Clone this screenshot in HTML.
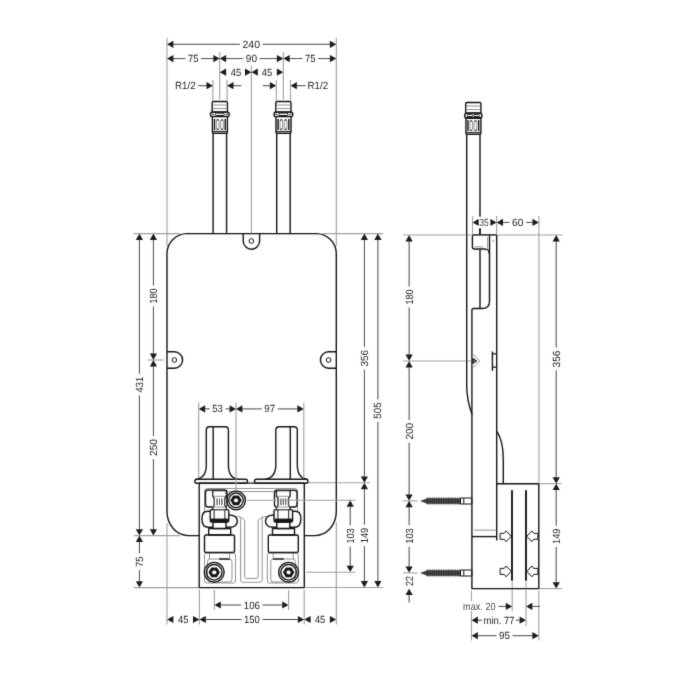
<!DOCTYPE html>
<html><head><meta charset="utf-8"><title>Dimension drawing</title>
<style>
html,body{margin:0;padding:0;background:#fff;}
body{width:700px;height:700px;overflow:hidden;font-family:"Liberation Sans",sans-serif;}
svg{display:block}
.o{stroke:#161616;stroke-width:1.4;fill:none;stroke-linecap:butt;stroke-linejoin:round}
.o2{stroke:#161616;stroke-width:1.0;fill:none}
.o3{stroke:#161616;stroke-width:1.0;fill:none;stroke-linejoin:round}
.g{stroke:#868686;stroke-width:0.9;fill:none}
.e{stroke:#a0a0a0;stroke-width:1.1}
.d{stroke:#333;stroke-width:0.9}
.ar{fill:#1c1c1c}
.t{text-rendering:geometricPrecision;font-family:"Liberation Sans",sans-serif;font-size:10.4px;fill:#262626}
</style></head><body>
<svg width="700" height="700" viewBox="0 0 700 700">
<rect width="700" height="700" fill="#fff"/>
<g filter="url(#b)">
<defs><filter id="b" x="0" y="0" width="700" height="700" filterUnits="userSpaceOnUse"><feConvolveMatrix order="3" kernelMatrix="0.02 0.13 0.02 0.13 1 0.13 0.02 0.13 0.02" divisor="1.6" edgeMode="none"/></filter></defs>
<line class="e" x1="167.0" y1="38.0" x2="167.0" y2="246.0"/>
<line class="e" x1="336.3" y1="38.0" x2="336.3" y2="246.0"/>
<line class="e" x1="219.7" y1="52.0" x2="219.7" y2="99.5"/>
<line class="e" x1="283.3" y1="52.0" x2="283.3" y2="99.5"/>
<line class="e" x1="251.4" y1="66.0" x2="251.4" y2="233.0"/>
<line class="e" x1="212.9" y1="80.0" x2="212.9" y2="101.0"/>
<line class="e" x1="227.1" y1="80.0" x2="227.1" y2="101.0"/>
<line class="e" x1="276.3" y1="80.0" x2="276.3" y2="101.0"/>
<line class="e" x1="290.5" y1="80.0" x2="290.5" y2="101.0"/>
<line class="e" x1="133.6" y1="233.6" x2="180.0" y2="233.6"/>
<line class="e" x1="147.6" y1="360.0" x2="164.0" y2="360.0"/>
<line class="e" x1="134.0" y1="535.6" x2="180.0" y2="535.6"/>
<line class="e" x1="134.0" y1="587.6" x2="199.0" y2="587.6"/>
<line class="e" x1="323.0" y1="233.6" x2="383.0" y2="233.6"/>
<line class="e" x1="305.0" y1="482.8" x2="370.0" y2="482.8"/>
<line class="e" x1="306.0" y1="572.2" x2="355.5" y2="572.2"/>
<line class="e" x1="304.5" y1="587.5" x2="383.0" y2="587.5"/>
<line class="e" x1="167.0" y1="523.0" x2="167.0" y2="624.5"/>
<line class="e" x1="199.4" y1="589.5" x2="199.4" y2="624.5"/>
<line class="e" x1="214.4" y1="590.0" x2="214.4" y2="610.0"/>
<line class="e" x1="288.6" y1="590.0" x2="288.6" y2="610.0"/>
<line class="e" x1="304.2" y1="589.5" x2="304.2" y2="624.5"/>
<line class="e" x1="336.3" y1="522.0" x2="336.3" y2="624.5"/>
<line class="e" x1="472.5" y1="216.0" x2="472.5" y2="234.0"/>
<line class="e" x1="496.6" y1="216.0" x2="496.6" y2="234.0"/>
<line class="e" x1="538.9" y1="216.0" x2="538.9" y2="483.0"/>
<line class="e" x1="403.4" y1="235.0" x2="562.5" y2="235.0"/>
<line class="e" x1="403.0" y1="361.0" x2="471.0" y2="361.0"/>
<line class="e" x1="403.0" y1="500.9" x2="417.5" y2="500.9"/>
<line class="e" x1="403.0" y1="572.9" x2="417.5" y2="572.9"/>
<line class="e" x1="539.5" y1="483.7" x2="561.5" y2="483.7"/>
<line class="e" x1="539.5" y1="588.6" x2="562.0" y2="588.6"/>
<line class="e" x1="471.5" y1="590.5" x2="471.5" y2="640.5"/>
<line class="e" x1="512.2" y1="581.5" x2="512.2" y2="611.5"/>
<line class="e" x1="526.0" y1="581.5" x2="526.0" y2="626.0"/>
<line class="e" x1="538.8" y1="590.5" x2="538.8" y2="640.5"/>
<path class="o" d="M213.1,133 V233.6 M226.6,133 V233.6"/>
<path class="o" d="M276.7,133 V233.6 M290.2,133 V233.6"/>
<rect class="o" x="212.2" y="101.5" width="15.2" height="10.6" rx="1.2" fill="#fff"/>
<path class="g" d="M213.0,105.0 h13.6 M213.0,108.6 h13.6"/>
<rect class="o" x="212.4" y="116.4" width="15" height="16.8" rx="1" fill="#fff"/>
<path d="M214.5,119.0 v11 M225.2,119.0 v11" stroke="#1f1f1f" stroke-width="1.5" fill="none"/>
<rect class="g" x="216.4" y="119.8" width="2.6" height="9.6" rx="0.8" fill="none"/>
<rect class="g" x="220.7" y="119.8" width="2.6" height="9.6" rx="0.8" fill="none"/>
<path class="o2" d="M216.6,120.0 h2 M221.0,120.0 h2 M216.6,129.2 h2 M221.0,129.2 h2"/>
<path class="o2" d="M212.4,131.4 h15"/>
<rect class="o" x="210.4" y="112.0" width="18.8" height="4.6" rx="2.2" fill="#fff"/>
<rect class="o2" x="215.3" y="113.1" width="9" height="2.4" rx="1.2" fill="none" stroke-width="0.8"/>
<path class="o2" d="M211.8,114.3 h2 M225.8,114.3 h2" stroke-width="0.8"/>
<rect class="o" x="275.8" y="101.5" width="15.2" height="10.6" rx="1.2" fill="#fff"/>
<path class="g" d="M276.6,105.0 h13.6 M276.6,108.6 h13.6"/>
<rect class="o" x="276.0" y="116.4" width="15" height="16.8" rx="1" fill="#fff"/>
<path d="M278.1,119.0 v11 M288.8,119.0 v11" stroke="#1f1f1f" stroke-width="1.5" fill="none"/>
<rect class="g" x="280.0" y="119.8" width="2.6" height="9.6" rx="0.8" fill="none"/>
<rect class="g" x="284.3" y="119.8" width="2.6" height="9.6" rx="0.8" fill="none"/>
<path class="o2" d="M280.2,120.0 h2 M284.6,120.0 h2 M280.2,129.2 h2 M284.6,129.2 h2"/>
<path class="o2" d="M276.0,131.4 h15"/>
<rect class="o" x="274.0" y="112.0" width="18.8" height="4.6" rx="2.2" fill="#fff"/>
<rect class="o2" x="278.9" y="113.1" width="9" height="2.4" rx="1.2" fill="none" stroke-width="0.8"/>
<path class="o2" d="M275.4,114.3 h2 M289.4,114.3 h2" stroke-width="0.8"/>
<path class="o" d="M199.4,535.6 H188 A21,24 0 0 1 167,511.6 V253.6 A20,20 0 0 1 187,233.6 H316.3 A20,20 0 0 1 336.3,253.6 V511.6 A21,24 0 0 1 315.3,535.6 H304.2"/>
<path class="o" d="M243.2,233.6 V241 A8.2,8.2 0 0 0 259.6,241 V233.6"/>
<path class="o" d="M167,351.8 H174.4 A8.2,8.2 0 0 1 174.4,368.2 H167"/>
<path class="o" d="M336.3,351.8 H328.6 A8.2,8.2 0 0 0 328.6,368.2 H336.3"/>
<circle class="o3" cx="251.4" cy="241.0" r="2.3" stroke-width="1.2"/>
<circle class="o3" cx="174.4" cy="360.0" r="2.3" stroke-width="1.2"/>
<circle class="o3" cx="328.6" cy="360.0" r="2.3" stroke-width="1.2"/>
<path class="o" d="M195.8,479.4 Q206.3,478 206.3,465 V430 Q206.3,426.7 209.5,426.7 H225.2 Q228.4,426.7 228.4,430 V465 Q228.4,478 238.5,479.4" fill="#fff"/>
<path class="o" d="M213.2,426.7 V479.2"/>
<path class="o" d="M264.5,479.4 Q275.8,478 275.8,465 V430 Q275.8,426.7 279,426.7 H294.1 Q297.3,426.7 297.3,430 V465 Q297.3,478 307.5,479.4" fill="#fff"/>
<path class="o" d="M290.3,426.7 V479.2"/>
<rect class="o" x="194.8" y="479.2" width="52.7" height="4" rx="2" fill="#fff"/>
<rect class="o" x="254.5" y="479.2" width="53.5" height="4" rx="2" fill="#fff"/>
<rect class="o" x="199.2" y="483.1" width="105.1" height="104.5" fill="none"/>
<path class="g" d="M204.5,512 V491 Q204.5,488.5 207,488.5 H295 Q297.5,488.5 297.5,491 V512"/>
<path class="g" d="M228,491.6 H273.5"/>
<path class="g" d="M236.5,516.5 H238.6 Q240.6,516.5 240.6,518.5 V580 Q240.6,582.3 243,582.3 H259.8 Q262.2,582.3 262.2,580 V518.5 Q262.2,516.5 264.2,516.5 H266.3"/>
<path class="g" d="M241,516.8 L244.6,520.5 V576.5 Q244.6,578.4 246.5,578.4 H256.3 Q258.2,578.4 258.2,576.5 V520.5 L261.8,516.8"/>
<rect class="g" x="204.5" y="553" width="31.0" height="30" rx="2" fill="none"/>
<rect class="g" x="207.5" y="559" width="24.5" height="23" rx="2.5" fill="none"/>
<path class="o" d="M219.0,559 H230.0"/>
<path class="g" d="M209.5,552.5 V559 M229.5,552.5 V559"/>
<rect class="g" x="267.3" y="553" width="31.0" height="30" rx="2" fill="none"/>
<rect class="g" x="270.8" y="559" width="24.5" height="23" rx="2.5" fill="none"/>
<path class="o" d="M283.8,559 H272.8"/>
<path class="g" d="M293.3,552.5 V559 M273.3,552.5 V559"/>
<rect class="o" x="205.5" y="490" width="21.5" height="17" rx="2.5" fill="none"/>
<rect x="212.7" y="491" width="13.6" height="19" fill="#fff"/>
<path class="o" d="M212.7,491 V496 L214.3,498.5 V505 L212.7,508 V509.5 M226.3,491 V496 L224.7,498.5 V505 L226.3,508 V509.5"/>
<path class="o" d="M212.7,490.6 H226.3"/>
<path class="o2" d="M217.1,498.5 V505 M219.5,498.5 V505 M221.9,498.5 V505"/>
<path class="g" d="M213.5,496.3 H225.5 M213.5,507 H225.5"/>
<path class="o" d="M210.5,511.3 H207.5 Q201.9,511.3 201.9,519 Q201.9,527.3 208.5,527.3 H213.0" fill="#fff"/>
<path class="o" d="M228.5,515 Q237.3,515 237.3,521 Q237.3,527.2 229.5,527.2 H226.0" fill="#fff"/>
<rect class="o" x="213.0" y="522" width="13" height="6.5" fill="#fff"/>
<rect class="o" x="210.2" y="509.6" width="18.6" height="12.4" rx="1.6" fill="#fff"/>
<rect x="210.8" y="518.6" width="17.4" height="3.4" fill="#161616"/>
<path class="o2" d="M214.1,510 V519 M224.9,510 V519"/>
<rect class="o" x="208.7" y="528.6" width="22" height="6.4" fill="#fff"/>
<rect class="o" x="204.5" y="535" width="30" height="17.5" rx="1.6" fill="#fff"/>
<rect class="o" x="274.5" y="490.3" width="22.5" height="16.7" rx="2.5" fill="none"/>
<rect x="276.5" y="491" width="13.6" height="19" fill="#fff"/>
<path class="o" d="M276.5,491 V496 L278.1,498.5 V505 L276.5,508 V509.5 M290.1,491 V496 L288.5,498.5 V505 L290.1,508 V509.5"/>
<path class="o" d="M276.5,490.6 H290.1"/>
<path class="o2" d="M280.9,498.5 V505 M283.3,498.5 V505 M285.7,498.5 V505"/>
<path class="g" d="M277.3,496.3 H289.3 M277.3,507 H289.3"/>
<path class="o" d="M292.3,511.3 H295.3 Q300.9,511.3 300.9,519 Q300.9,527.3 294.3,527.3 H289.8" fill="#fff"/>
<path class="o" d="M274.3,515 Q265.5,515 265.5,521 Q265.5,527.2 273.3,527.2 H276.8" fill="#fff"/>
<rect class="o" x="276.8" y="522" width="13" height="6.5" fill="#fff"/>
<rect class="o" x="274.0" y="509.6" width="18.6" height="12.4" rx="1.6" fill="#fff"/>
<rect x="274.6" y="518.6" width="17.4" height="3.4" fill="#161616"/>
<path class="o2" d="M277.9,510 V519 M288.7,510 V519"/>
<rect class="o" x="272.5" y="528.6" width="22" height="6.4" fill="#fff"/>
<rect class="o" x="268.3" y="535" width="30" height="17.5" rx="1.6" fill="#fff"/>
<circle class="o" cx="236.0" cy="500.3" r="9.4" fill="#fff" stroke-width="1.9"/>
<circle class="o" cx="236.0" cy="500.3" r="7.3" stroke-width="1.3"/>
<polygon points="241.7,500.3 238.8,505.2 233.2,505.2 230.3,500.3 233.2,495.4 238.8,495.4" fill="#161616"/>
<circle cx="236.0" cy="500.3" r="1.9" fill="#fff"/>
<circle class="o" cx="214.2" cy="572.3" r="9.9" fill="#fff" stroke-width="1.9"/>
<circle class="o" cx="214.2" cy="572.3" r="7.8" stroke-width="1.3"/>
<polygon points="219.9,572.3 217.0,577.2 211.3,577.2 208.5,572.3 211.3,567.4 217.0,567.4" fill="#161616"/>
<circle cx="214.2" cy="572.3" r="1.9" fill="#fff"/>
<circle class="o" cx="288.6" cy="572.3" r="9.9" fill="#fff" stroke-width="1.9"/>
<circle class="o" cx="288.6" cy="572.3" r="7.8" stroke-width="1.3"/>
<polygon points="294.3,572.3 291.5,577.2 285.8,577.2 282.9,572.3 285.8,567.4 291.5,567.4" fill="#161616"/>
<circle cx="288.6" cy="572.3" r="1.9" fill="#fff"/>
<line class="e" x1="246.5" y1="500.3" x2="355.5" y2="500.3"/>
<line class="e" x1="198.7" y1="402.4" x2="198.7" y2="478.0"/>
<line class="e" x1="236.0" y1="402.4" x2="236.0" y2="490.0"/>
<line class="e" x1="303.8" y1="402.4" x2="303.8" y2="478.0"/>
<polygon class="ar" points="167.0,44.3 173.4,40.7 173.4,47.9"/>
<polygon class="ar" points="336.3,44.3 329.9,40.7 329.9,47.9"/>
<line class="d" x1="172.9" y1="44.3" x2="239.9" y2="44.3"/>
<line class="d" x1="262.7" y1="44.3" x2="330.4" y2="44.3"/>
<text class="t" x="251.3" y="47.8" text-anchor="middle" textLength="17.6" lengthAdjust="spacingAndGlyphs">240</text>
<polygon class="ar" points="167.0,58.6 173.4,55.0 173.4,62.2"/>
<polygon class="ar" points="219.7,58.6 213.3,55.0 213.3,62.2"/>
<line class="d" x1="172.9" y1="58.6" x2="185.3" y2="58.6"/>
<line class="d" x1="201.1" y1="58.6" x2="213.8" y2="58.6"/>
<text class="t" x="193.2" y="62.1" text-anchor="middle" textLength="10.6" lengthAdjust="spacingAndGlyphs">75</text>
<polygon class="ar" points="219.7,58.6 226.1,55.0 226.1,62.2"/>
<polygon class="ar" points="283.3,58.6 276.9,55.0 276.9,62.2"/>
<line class="d" x1="225.6" y1="58.6" x2="243.2" y2="58.6"/>
<line class="d" x1="259.6" y1="58.6" x2="277.4" y2="58.6"/>
<text class="t" x="251.4" y="62.1" text-anchor="middle" textLength="11.2" lengthAdjust="spacingAndGlyphs">90</text>
<polygon class="ar" points="283.3,58.6 289.7,55.0 289.7,62.2"/>
<polygon class="ar" points="336.3,58.6 329.9,55.0 329.9,62.2"/>
<line class="d" x1="289.2" y1="58.6" x2="302.4" y2="58.6"/>
<line class="d" x1="318.2" y1="58.6" x2="330.4" y2="58.6"/>
<text class="t" x="310.3" y="62.1" text-anchor="middle" textLength="10.6" lengthAdjust="spacingAndGlyphs">75</text>
<polygon class="ar" points="219.7,72.2 226.1,68.6 226.1,75.8"/>
<polygon class="ar" points="251.4,72.2 245.0,68.6 245.0,75.8"/>
<text class="t" x="236.0" y="75.8" text-anchor="middle" textLength="10.4" lengthAdjust="spacingAndGlyphs">45</text>
<polygon class="ar" points="251.4,72.2 257.8,68.6 257.8,75.8"/>
<polygon class="ar" points="283.3,72.2 276.9,68.6 276.9,75.8"/>
<text class="t" x="266.9" y="75.8" text-anchor="middle" textLength="10.4" lengthAdjust="spacingAndGlyphs">45</text>
<text class="t" x="185.3" y="89.2" text-anchor="middle" textLength="20.6" lengthAdjust="spacingAndGlyphs">R1/2</text>
<line class="d" x1="198.3" y1="85.7" x2="207.0" y2="85.7"/>
<polygon class="ar" points="212.9,85.7 206.5,82.1 206.5,89.3"/>
<polygon class="ar" points="227.1,85.7 233.5,82.1 233.5,89.3"/>
<line class="d" x1="233.0" y1="85.7" x2="241.4" y2="85.7"/>
<line class="d" x1="262.9" y1="85.7" x2="270.5" y2="85.7"/>
<polygon class="ar" points="276.3,85.7 269.9,82.1 269.9,89.3"/>
<polygon class="ar" points="290.5,85.7 296.9,82.1 296.9,89.3"/>
<line class="d" x1="296.5" y1="85.7" x2="305.5" y2="85.7"/>
<text class="t" x="317.8" y="89.2" text-anchor="middle" textLength="20.6" lengthAdjust="spacingAndGlyphs">R1/2</text>
<polygon class="ar" points="139.4,233.6 135.8,240.0 143.0,240.0"/>
<polygon class="ar" points="139.4,535.6 135.8,529.2 143.0,529.2"/>
<line class="d" x1="139.4" y1="239.5" x2="139.4" y2="373.9"/>
<line class="d" x1="139.4" y1="395.5" x2="139.4" y2="529.7"/>
<text class="t" transform="translate(143.0,384.7) rotate(-90)" text-anchor="middle" textLength="15.6" lengthAdjust="spacingAndGlyphs">431</text>
<polygon class="ar" points="153.4,233.6 149.8,240.0 157.0,240.0"/>
<polygon class="ar" points="153.4,360.0 149.8,353.6 157.0,353.6"/>
<line class="d" x1="153.4" y1="239.5" x2="153.4" y2="285.5"/>
<line class="d" x1="153.4" y1="306.5" x2="153.4" y2="354.1"/>
<text class="t" transform="translate(157.0,296.0) rotate(-90)" text-anchor="middle" textLength="15.0" lengthAdjust="spacingAndGlyphs">180</text>
<polygon class="ar" points="153.4,360.0 149.8,366.4 157.0,366.4"/>
<polygon class="ar" points="153.4,535.6 149.8,529.2 157.0,529.2"/>
<line class="d" x1="153.4" y1="365.9" x2="153.4" y2="436.0"/>
<line class="d" x1="153.4" y1="459.0" x2="153.4" y2="529.7"/>
<text class="t" transform="translate(157.0,447.5) rotate(-90)" text-anchor="middle" textLength="17.0" lengthAdjust="spacingAndGlyphs">250</text>
<polygon class="ar" points="139.4,535.6 135.8,542.0 143.0,542.0"/>
<polygon class="ar" points="139.4,587.6 135.8,581.2 143.0,581.2"/>
<line class="d" x1="139.4" y1="541.5" x2="139.4" y2="553.5"/>
<line class="d" x1="139.4" y1="570.1" x2="139.4" y2="581.7"/>
<text class="t" transform="translate(143.0,561.8) rotate(-90)" text-anchor="middle" textLength="10.6" lengthAdjust="spacingAndGlyphs">75</text>
<polygon class="ar" points="364.4,233.6 360.8,240.0 368.0,240.0"/>
<polygon class="ar" points="364.4,482.8 360.8,476.4 368.0,476.4"/>
<line class="d" x1="364.4" y1="239.5" x2="364.4" y2="347.0"/>
<line class="d" x1="364.4" y1="369.6" x2="364.4" y2="476.9"/>
<text class="t" transform="translate(367.9,358.3) rotate(-90)" text-anchor="middle" textLength="16.6" lengthAdjust="spacingAndGlyphs">356</text>
<polygon class="ar" points="377.9,233.6 374.3,240.0 381.5,240.0"/>
<polygon class="ar" points="377.9,587.5 374.3,581.1 381.5,581.1"/>
<line class="d" x1="377.9" y1="239.5" x2="377.9" y2="399.4"/>
<line class="d" x1="377.9" y1="421.8" x2="377.9" y2="581.6"/>
<text class="t" transform="translate(381.4,410.6) rotate(-90)" text-anchor="middle" textLength="16.4" lengthAdjust="spacingAndGlyphs">505</text>
<polygon class="ar" points="364.4,482.8 360.8,489.2 368.0,489.2"/>
<polygon class="ar" points="364.4,587.4 360.8,581.0 368.0,581.0"/>
<line class="d" x1="364.4" y1="488.7" x2="364.4" y2="524.7"/>
<line class="d" x1="364.4" y1="546.3" x2="364.4" y2="581.5"/>
<text class="t" transform="translate(367.9,535.5) rotate(-90)" text-anchor="middle" textLength="15.6" lengthAdjust="spacingAndGlyphs">149</text>
<polygon class="ar" points="350.2,500.3 346.6,506.7 353.8,506.7"/>
<polygon class="ar" points="350.2,572.1 346.6,565.7 353.8,565.7"/>
<line class="d" x1="350.2" y1="506.2" x2="350.2" y2="525.4"/>
<line class="d" x1="350.2" y1="546.6" x2="350.2" y2="566.2"/>
<text class="t" transform="translate(353.8,536.0) rotate(-90)" text-anchor="middle" textLength="15.2" lengthAdjust="spacingAndGlyphs">103</text>
<polygon class="ar" points="214.4,605.0 220.8,601.4 220.8,608.6"/>
<polygon class="ar" points="288.6,605.0 282.2,601.4 282.2,608.6"/>
<line class="d" x1="220.3" y1="605.0" x2="241.2" y2="605.0"/>
<line class="d" x1="262.6" y1="605.0" x2="282.7" y2="605.0"/>
<text class="t" x="251.9" y="608.5" text-anchor="middle" textLength="16.2" lengthAdjust="spacingAndGlyphs">106</text>
<polygon class="ar" points="167.0,619.5 173.4,615.9 173.4,623.1"/>
<polygon class="ar" points="199.4,619.5 193.0,615.9 193.0,623.1"/>
<text class="t" x="183.3" y="623.0" text-anchor="middle" textLength="10.4" lengthAdjust="spacingAndGlyphs">45</text>
<polygon class="ar" points="199.4,619.5 205.8,615.9 205.8,623.1"/>
<polygon class="ar" points="304.2,619.5 297.8,615.9 297.8,623.1"/>
<line class="d" x1="205.3" y1="619.5" x2="241.5" y2="619.5"/>
<line class="d" x1="262.5" y1="619.5" x2="298.3" y2="619.5"/>
<text class="t" x="252.0" y="623.0" text-anchor="middle" textLength="15.8" lengthAdjust="spacingAndGlyphs">150</text>
<polygon class="ar" points="304.2,619.5 310.6,615.9 310.6,623.1"/>
<polygon class="ar" points="336.3,619.5 329.9,615.9 329.9,623.1"/>
<text class="t" x="320.1" y="623.0" text-anchor="middle" textLength="10.4" lengthAdjust="spacingAndGlyphs">45</text>
<polygon class="ar" points="198.7,408.9 205.1,405.3 205.1,412.5"/>
<polygon class="ar" points="236.0,408.9 229.6,405.3 229.6,412.5"/>
<line class="d" x1="204.6" y1="408.9" x2="209.7" y2="408.9"/>
<line class="d" x1="225.5" y1="408.9" x2="230.1" y2="408.9"/>
<text class="t" x="217.6" y="412.4" text-anchor="middle" textLength="10.6" lengthAdjust="spacingAndGlyphs">53</text>
<polygon class="ar" points="236.0,408.9 242.4,405.3 242.4,412.5"/>
<polygon class="ar" points="303.8,408.9 297.4,405.3 297.4,412.5"/>
<line class="d" x1="241.9" y1="408.9" x2="261.7" y2="408.9"/>
<line class="d" x1="277.9" y1="408.9" x2="297.9" y2="408.9"/>
<text class="t" x="269.8" y="412.4" text-anchor="middle" textLength="11.0" lengthAdjust="spacingAndGlyphs">97</text>
<path class="o" d="M466.7,134 V387 Q467.2,402 472.1,414.5"/>
<path class="o" d="M480,134 V234.6 M480,249.4 V308.3"/>
<rect class="o" x="465.7" y="102.5" width="15.2" height="10.6" rx="1.2" fill="#fff"/>
<path class="g" d="M466.5,106.0 h13.6 M466.5,109.6 h13.6"/>
<rect class="o" x="465.9" y="117.4" width="15" height="16.8" rx="1" fill="#fff"/>
<path d="M468.0,120.0 v11 M478.7,120.0 v11" stroke="#1f1f1f" stroke-width="1.5" fill="none"/>
<rect class="g" x="469.9" y="120.8" width="2.6" height="9.6" rx="0.8" fill="none"/>
<rect class="g" x="474.2" y="120.8" width="2.6" height="9.6" rx="0.8" fill="none"/>
<path class="o2" d="M470.1,121.0 h2 M474.5,121.0 h2 M470.1,130.2 h2 M474.5,130.2 h2"/>
<path class="o2" d="M465.9,132.4 h15"/>
<rect class="o" x="464.7" y="113.0" width="17.2" height="5.2" rx="2.2" fill="#fff"/>
<rect class="o2" x="467.1" y="114.4" width="5.6" height="2.2" rx="1.1" fill="none" stroke-width="0.8"/>
<rect class="o2" x="473.9" y="114.4" width="5.6" height="2.2" rx="1.1" fill="none" stroke-width="0.8"/>
<path class="o" d="M496.7,234.9 H474 Q472.4,234.9 472.4,236.6 V247 Q472.4,249 474.4,249 H484 Q489.5,249 489.5,254.5 V301.4 Q489.5,308.5 482,308.5 H473.6 Q471.9,308.5 471.9,310.4 V588.6 H538.8 V483.7 H496.7"/>
<path class="o" d="M489.5,234.9 V254.5"/>
<path class="o" d="M496.7,234.9 V540.4"/>
<path class="g" d="M487.6,237 V251 M474.2,246.9 H483 M492,241 H494.5"/>
<path class="o" d="M479.9,225.5 V234.9"/>
<path class="o" d="M492.4,351.4 V370.7 M492.4,353.9 H496.7 M492.4,367.1 H496.7"/>
<path class="g" d="M472.3,353.6 L479.8,361 L472.3,368.2"/>
<path class="o" d="M473,358.8 L476.4,361 L473,363.2 Z" fill="#fff" stroke-width="1.2"/>
<path class="o" d="M497,431.4 Q503.3,441 503.3,460 V483.7"/>
<path d="M512,490.3 V580.8 M526,490.3 V580.8" stroke="#161616" stroke-width="1.9" fill="none"/>
<path class="g" d="M474,530.1 H496"/>
<path class="o" d="M472,536.6 H496.7"/>
<path class="o3" d="M511.2,536.3 L506.1,530.9 L504.3,533.3 H500.1 V539.3 H504.3 L506.1,541.7 Z" fill="#fff" stroke-width="1.1"/>
<path class="o3" d="M526.8,536.3 L531.9,530.9 L533.7,533.3 H537.9 V539.3 H533.7 L531.9,541.7 Z" fill="#fff" stroke-width="1.1"/>
<path class="o3" d="M511.2,571.4 L506.1,566.0 L504.3,568.4 H500.1 V574.4 H504.3 L506.1,576.8 Z" fill="#fff" stroke-width="1.1"/>
<path class="o3" d="M526.8,571.4 L531.9,566.0 L533.7,568.4 H537.9 V574.4 H533.7 L531.9,576.8 Z" fill="#fff" stroke-width="1.1"/>
<polygon points="420.7,501.0 426.5,498.8 427.6,497.5 428.8,498.8 429.9,497.5 431.1,498.8 432.2,497.5 433.4,498.8 434.5,497.5 435.7,498.8 436.8,497.5 438.0,498.8 439.1,497.5 440.3,498.8 441.4,497.5 442.6,498.8 443.7,497.5 444.9,498.8 446.0,497.5 447.2,498.8 448.3,497.5 449.5,498.8 450.6,497.5 451.8,498.8 452.9,497.5 454.1,498.8 455.2,497.5 456.4,498.8 457.5,497.5 458.7,498.8 459.8,497.5 460.5,498.8 460.5,503.2 459.8,504.5 458.7,503.2 457.5,504.5 456.4,503.2 455.2,504.5 454.1,503.2 452.9,504.5 451.8,503.2 450.6,504.5 449.5,503.2 448.3,504.5 447.2,503.2 446.0,504.5 444.9,503.2 443.7,504.5 442.6,503.2 441.4,504.5 440.3,503.2 439.1,504.5 438.0,503.2 436.8,504.5 435.7,503.2 434.5,504.5 433.4,503.2 432.2,504.5 431.1,503.2 429.9,504.5 428.8,503.2 427.6,504.5 426.5,503.2" fill="#3c3c3c" stroke="#2a2a2a" stroke-width="0.4"/>
<rect class="o3" x="460.5" y="498.0" width="11.3" height="6" fill="#fff" stroke-width="1.1"/>
<path class="o3" d="M463.8,498.0 V504.0"/>
<polygon points="420.7,573.0 426.5,570.8 427.6,569.5 428.8,570.8 429.9,569.5 431.1,570.8 432.2,569.5 433.4,570.8 434.5,569.5 435.7,570.8 436.8,569.5 438.0,570.8 439.1,569.5 440.3,570.8 441.4,569.5 442.6,570.8 443.7,569.5 444.9,570.8 446.0,569.5 447.2,570.8 448.3,569.5 449.5,570.8 450.6,569.5 451.8,570.8 452.9,569.5 454.1,570.8 455.2,569.5 456.4,570.8 457.5,569.5 458.7,570.8 459.8,569.5 460.5,570.8 460.5,575.2 459.8,576.5 458.7,575.2 457.5,576.5 456.4,575.2 455.2,576.5 454.1,575.2 452.9,576.5 451.8,575.2 450.6,576.5 449.5,575.2 448.3,576.5 447.2,575.2 446.0,576.5 444.9,575.2 443.7,576.5 442.6,575.2 441.4,576.5 440.3,575.2 439.1,576.5 438.0,575.2 436.8,576.5 435.7,575.2 434.5,576.5 433.4,575.2 432.2,576.5 431.1,575.2 429.9,576.5 428.8,575.2 427.6,576.5 426.5,575.2" fill="#3c3c3c" stroke="#2a2a2a" stroke-width="0.4"/>
<rect class="o3" x="460.5" y="570.0" width="11.3" height="6" fill="#fff" stroke-width="1.1"/>
<path class="o3" d="M463.8,570.0 V576.0"/>
<rect x="479" y="217" width="10.8" height="11" fill="#fff"/>
<polygon class="ar" points="472.5,222.4 478.9,218.8 478.9,226.0"/>
<polygon class="ar" points="496.6,222.4 490.2,218.8 490.2,226.0"/>
<text class="t" x="484.0" y="226.0" text-anchor="middle" textLength="9.4" lengthAdjust="spacingAndGlyphs">35</text>
<polygon class="ar" points="496.6,222.4 503.0,218.8 503.0,226.0"/>
<polygon class="ar" points="538.9,222.4 532.5,218.8 532.5,226.0"/>
<line class="d" x1="502.5" y1="222.4" x2="509.4" y2="222.4"/>
<line class="d" x1="526.0" y1="222.4" x2="533.0" y2="222.4"/>
<text class="t" x="517.7" y="226.0" text-anchor="middle" textLength="11.4" lengthAdjust="spacingAndGlyphs">60</text>
<polygon class="ar" points="409.1,235.0 405.5,241.4 412.7,241.4"/>
<polygon class="ar" points="409.1,361.0 405.5,354.6 412.7,354.6"/>
<line class="d" x1="409.1" y1="240.9" x2="409.1" y2="286.5"/>
<line class="d" x1="409.1" y1="307.5" x2="409.1" y2="355.1"/>
<text class="t" transform="translate(412.7,297.0) rotate(-90)" text-anchor="middle" textLength="15.0" lengthAdjust="spacingAndGlyphs">180</text>
<polygon class="ar" points="409.1,361.0 405.5,367.4 412.7,367.4"/>
<polygon class="ar" points="409.1,500.8 405.5,494.4 412.7,494.4"/>
<line class="d" x1="409.1" y1="366.9" x2="409.1" y2="420.0"/>
<line class="d" x1="409.1" y1="442.6" x2="409.1" y2="494.9"/>
<text class="t" transform="translate(412.7,431.3) rotate(-90)" text-anchor="middle" textLength="16.6" lengthAdjust="spacingAndGlyphs">200</text>
<polygon class="ar" points="409.1,500.8 405.5,507.2 412.7,507.2"/>
<polygon class="ar" points="409.1,572.8 405.5,566.4 412.7,566.4"/>
<line class="d" x1="409.1" y1="506.7" x2="409.1" y2="525.3"/>
<line class="d" x1="409.1" y1="546.7" x2="409.1" y2="566.9"/>
<text class="t" transform="translate(412.7,536.0) rotate(-90)" text-anchor="middle" textLength="15.4" lengthAdjust="spacingAndGlyphs">103</text>
<polygon class="ar" points="409.1,588.7 405.5,595.1 412.7,595.1"/>
<line class="d" x1="409.1" y1="594.5" x2="409.1" y2="602.5"/>
<text class="t" transform="translate(412.7,580.9) rotate(-90)" text-anchor="middle" textLength="10.0" lengthAdjust="spacingAndGlyphs">22</text>
<polygon class="ar" points="556.2,235.0 552.6,241.4 559.8,241.4"/>
<polygon class="ar" points="556.2,483.7 552.6,477.3 559.8,477.3"/>
<line class="d" x1="556.2" y1="240.9" x2="556.2" y2="347.6"/>
<line class="d" x1="556.2" y1="370.4" x2="556.2" y2="477.8"/>
<text class="t" transform="translate(559.8,359.0) rotate(-90)" text-anchor="middle" textLength="16.8" lengthAdjust="spacingAndGlyphs">356</text>
<polygon class="ar" points="556.2,483.7 552.6,490.1 559.8,490.1"/>
<polygon class="ar" points="556.2,588.6 552.6,582.2 559.8,582.2"/>
<line class="d" x1="556.2" y1="489.6" x2="556.2" y2="525.7"/>
<line class="d" x1="556.2" y1="546.9" x2="556.2" y2="582.7"/>
<text class="t" transform="translate(559.8,536.3) rotate(-90)" text-anchor="middle" textLength="15.2" lengthAdjust="spacingAndGlyphs">149</text>
<rect x="462" y="601" width="35" height="10" fill="#fff"/>
<text class="t" x="479.3" y="609.9" text-anchor="middle" textLength="32.6" lengthAdjust="spacingAndGlyphs">max. 20</text>
<line class="d" x1="498.6" y1="606.4" x2="506.5" y2="606.4"/>
<polygon class="ar" points="512.2,606.4 505.8,602.8 505.8,610.0"/>
<polygon class="ar" points="526.0,606.4 532.4,602.8 532.4,610.0"/>
<line class="d" x1="531.8" y1="606.4" x2="540.0" y2="606.4"/>
<polygon class="ar" points="471.5,620.2 477.9,616.6 477.9,623.8"/>
<polygon class="ar" points="526.0,620.2 519.6,616.6 519.6,623.8"/>
<line class="d" x1="477.4" y1="620.2" x2="482.1" y2="620.2"/>
<line class="d" x1="516.0" y1="620.2" x2="520.1" y2="620.2"/>
<text class="t" x="499.0" y="623.8" text-anchor="middle" textLength="30.9" lengthAdjust="spacingAndGlyphs">min. 77</text>
<polygon class="ar" points="471.5,635.7 477.9,632.1 477.9,639.3"/>
<polygon class="ar" points="538.8,635.7 532.4,632.1 532.4,639.3"/>
<line class="d" x1="477.4" y1="635.7" x2="496.4" y2="635.7"/>
<line class="d" x1="512.6" y1="635.7" x2="532.9" y2="635.7"/>
<text class="t" x="504.5" y="639.2" text-anchor="middle" textLength="11.0" lengthAdjust="spacingAndGlyphs">95</text>
</g>
</svg>
</body></html>
